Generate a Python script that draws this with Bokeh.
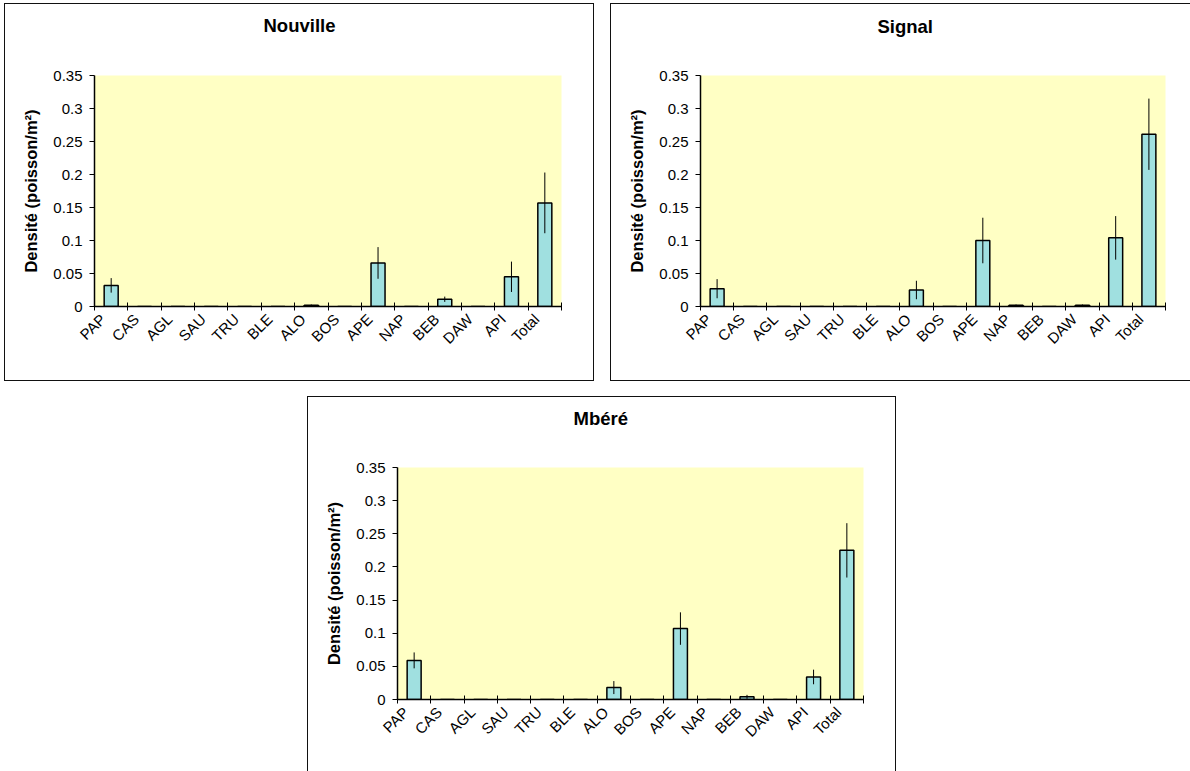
from bokeh.plotting import figure
from bokeh.models import Range1d, FixedTicker, CustomJSTickFormatter, Spacer, Title
from bokeh.layouts import column, row
from bokeh.embed import file_html
from bokeh.resources import INLINE

# Species codes along the category axis
species = ["PAP", "CAS", "AGL", "SAU", "TRU", "BLE", "ALO", "BOS",
           "APE", "NAP", "BEB", "DAW", "API", "Total"]

# Mean density (fish/m²) and its error per station
nouville_density = [0.032, 0, 0, 0, 0, 0, 0.002, 0, 0.066, 0, 0.011, 0, 0.045, 0.157]
nouville_error = [0.011, 0, 0, 0, 0, 0, 0.001, 0, 0.024, 0, 0.004, 0, 0.023, 0.046]

signal_density = [0.027, 0, 0, 0, 0, 0, 0.025, 0, 0.100, 0.002, 0, 0.002, 0.104, 0.261]
signal_error = [0.0145, 0, 0, 0, 0, 0, 0.014, 0, 0.0345, 0.001, 0, 0.001, 0.033, 0.054]

mbere_density = [0.059, 0, 0, 0, 0, 0, 0.018, 0, 0.107, 0, 0.004, 0, 0.034, 0.225]
mbere_error = [0.012, 0, 0, 0, 0, 0, 0.0098, 0, 0.0245, 0, 0.003, 0, 0.011, 0.041]

y_ticks = [0, 0.05, 0.1, 0.15, 0.2, 0.25, 0.3, 0.35]
y_label = "Densité (poisson/m²)"

FONT = "Liberation Sans"
BAR_FILL = "#A0E0E0"
PLOT_BG = "#FFFFC4"


def make_panel(title, density, error, width, height, borders, title_offset, title_gap):
    left, right, top, bottom = borders
    n = len(species)
    centers = [i + 0.5 for i in range(n)]
    p = figure(width=width, height=height, output_backend="svg", toolbar_location=None,
               title=None, x_range=Range1d(0, n), y_range=Range1d(0, 0.35),
               min_border_left=left, min_border_right=right,
               min_border_top=top, min_border_bottom=bottom)
    p.background_fill_color = PLOT_BG
    p.border_fill_color = "white"
    p.outline_line_color = None
    p.grid.visible = False
    p.styles = {"box-shadow": "0 0 0 1px #111"}

    # blank band between the frame and the chart title
    p.add_layout(Title(text=" ", text_font_size="1px", standoff=title_gap), "above")
    p.add_layout(Title(text=title, text_font=FONT, text_font_size="18.5px",
                       text_font_style="bold", text_color="black", align="left",
                       vertical_align="bottom", offset=title_offset, standoff=2), "above")

    p.vbar(x=centers, top=density, width=0.42, bottom=0,
           fill_color=BAR_FILL, line_color="black", line_width=1.5)
    lo = [d - e for d, e in zip(density, error)]
    hi = [d + e for d, e in zip(density, error)]
    p.segment(x0=centers, y0=lo, x1=centers, y1=hi, line_color="black", line_width=1)

    # category axis: names slightly left of bar centres, ticks at category boundaries
    xa = p.xaxis[0]
    xa.ticker = FixedTicker(ticks=[c - 0.25 for c in centers], minor_ticks=list(range(n + 1)))
    xa.formatter = CustomJSTickFormatter(args=dict(names=species),
                                         code="return names[Math.floor(tick)];")
    xa.major_tick_line_color = None
    xa.major_tick_in = 0
    xa.major_tick_out = 4
    xa.minor_tick_in = 4
    xa.minor_tick_out = 4
    xa.minor_tick_line_color = "black"
    xa.axis_line_color = "black"
    xa.axis_line_width = 1.5
    xa.major_label_orientation = 0.785398
    xa.major_label_text_font = FONT
    xa.major_label_text_font_size = "15px"
    xa.major_label_text_color = "black"
    xa.major_label_standoff = 6

    ya = p.yaxis[0]
    ya.ticker = FixedTicker(ticks=y_ticks, minor_ticks=[])
    ya.formatter = CustomJSTickFormatter(code="return String(parseFloat(tick.toFixed(2)));")
    ya.major_tick_in = 0
    ya.major_tick_out = 5
    ya.axis_line_color = "black"
    ya.axis_line_width = 1.5
    ya.major_label_text_font = FONT
    ya.major_label_text_font_size = "15px"
    ya.major_label_text_color = "black"
    ya.major_label_standoff = 7
    ya.axis_label = y_label
    ya.axis_label_text_font = FONT
    ya.axis_label_text_font_size = "16.5px"
    ya.axis_label_text_font_style = "bold"
    ya.axis_label_text_color = "black"
    ya.axis_label_standoff = 10
    return p


p1 = make_panel("Nouville", nouville_density, nouville_error,
                588, 376, (89, 32, 71, 74), 169, 36)
p2 = make_panel("Signal", signal_density, signal_error,
                579, 376, (89, 25, 69, 74), 177, 35)
p3 = make_panel("Mbéré", mbere_density, mbere_error,
                587, 374, (89, 32, 70, 72), 176, 35)

layout = column(
    Spacer(height=4),
    row(Spacer(width=5), p1, Spacer(width=18), p2),
    Spacer(height=17),
    row(Spacer(width=308), p3),
)

open("out.html", "w").write(file_html(layout, INLINE))
